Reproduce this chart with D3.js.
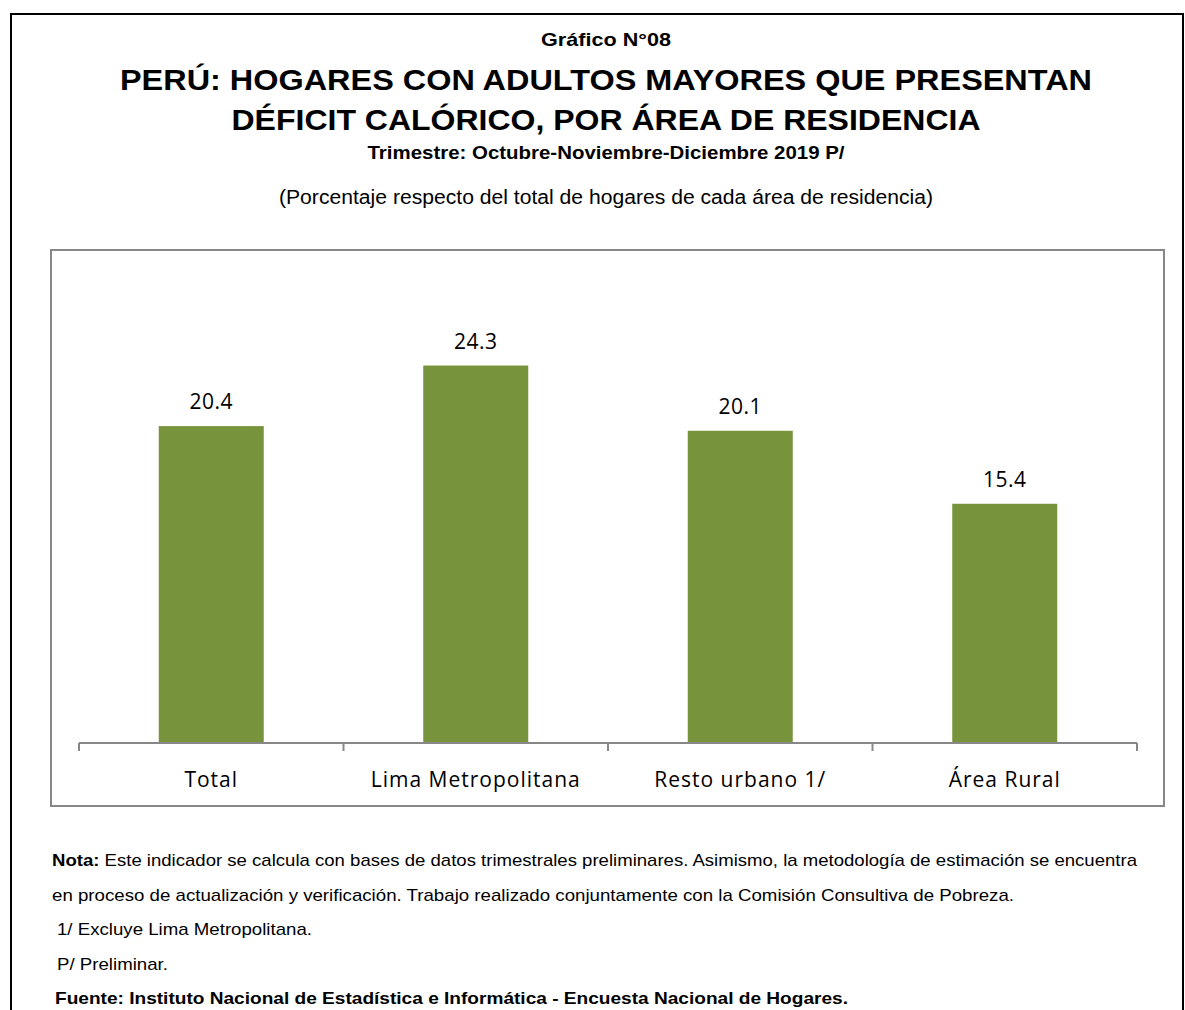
<!DOCTYPE html>
<html>
<head>
<meta charset="utf-8">
<script src="https://cdn.jsdelivr.net/npm/d3@7"></script>
<style>
  body { margin: 0; background: #fff; }
  .narrow { font-family: "Liberation Sans Narrow", "Arial Narrow", "Liberation Sans", Arial, sans-serif; }
  .wide { font-family: "Liberation Sans", Arial, sans-serif; }
  .cal { font-family: "Open Sans", "Noto Sans", sans-serif; }
</style>
</head>
<body>
<div id="chart"></div>
<script>
const categories = ['Total', 'Lima Metropolitana', 'Resto urbano 1/', 'Área Rural'];
const values = [20.4, 24.3, 20.1, 15.4];
const notes = [
  ['Nota:', ' Este indicador se calcula con bases de datos trimestrales preliminares. Asimismo, la metodología de estimación se encuentra'],
  ['', 'en proceso de actualización y verificación. Trabajo realizado conjuntamente con la Comisión Consultiva de Pobreza.'],
  ['', '1/ Excluye Lima Metropolitana.'],
  ['', 'P/ Preliminar.'],
  ['Fuente: Instituto Nacional de Estadística e Informática - Encuesta Nacional de Hogares.', '']
];
// layout for the note lines: left x and rendered width
const noteX = [52, 52, 57, 57, 55];
const noteW = [1085, 962, 255, 111, 793];

const width = 1185, height = 1010;
const svg = d3.select('#chart').append('svg')
    .attr('width', width)
    .attr('height', height);

// outer frame (no bottom edge visible)
svg.append('path')
    .attr('d', 'M11,1010 V14 H1183 V1010')
    .attr('fill', 'none')
    .attr('stroke', '#000')
    .attr('stroke-width', 2);

function heading(txt, y, size, weight, w, cls) {
  svg.append('text').attr('class', cls)
      .attr('x', 606 - w / 2).attr('y', y)
      .attr('font-size', size).attr('font-weight', weight)
      .attr('textLength', w).attr('lengthAdjust', 'spacingAndGlyphs')
      .text(txt);
}
heading('Gráfico N°08', 46, 19, 'bold', 130, 'narrow');
heading('PERÚ: HOGARES CON ADULTOS MAYORES QUE PRESENTAN', 90, 30, 'bold', 972, 'wide');
heading('DÉFICIT CALÓRICO, POR ÁREA DE RESIDENCIA', 130, 30, 'bold', 749, 'wide');
heading('Trimestre: Octubre-Noviembre-Diciembre 2019 P/', 159, 18, 'bold', 477, 'narrow');
heading('(Porcentaje respecto del total de hogares de cada área de residencia)', 204, 20, 'normal', 654, 'narrow');

// chart box
svg.append('rect')
    .attr('x', 51).attr('y', 250)
    .attr('width', 1113).attr('height', 556)
    .attr('fill', 'none')
    .attr('stroke', '#878787')
    .attr('stroke-width', 2);

const x = d3.scaleBand().domain(categories).range([79, 1137]).paddingInner(0).paddingOuter(0);
const y = d3.scaleLinear().domain([0, 30]).range([743, 277]);
const bw = 105;

svg.selectAll('.bar')
  .data(values)
  .enter().append('rect')
    .attr('class', 'bar')
    .attr('x', (d, i) => x(categories[i]) + x.bandwidth() / 2 - bw / 2)
    .attr('y', d => y(d))
    .attr('width', bw)
    .attr('height', d => y(0) - y(d))
    .attr('fill', '#77933c');

svg.selectAll('.val')
  .data(values)
  .enter().append('text')
    .attr('class', 'cal')
    .attr('x', (d, i) => x(categories[i]) + x.bandwidth() / 2)
    .attr('y', d => y(d) - 17)
    .attr('text-anchor', 'middle')
    .attr('font-size', 21)
    .attr('letter-spacing', 0.5)
    .attr('fill', '#000')
    .text(d => d.toFixed(1));

// axis
const axis = svg.append('g').attr('transform', 'translate(0,743)');
axis.append('line')
    .attr('x1', 79).attr('x2', 1137)
    .attr('stroke', '#878787').attr('stroke-width', 2);
const edges = categories.map(c => x(c)).concat([x(categories[categories.length - 1]) + x.bandwidth()]);
axis.selectAll('.tick')
  .data(edges)
  .enter().append('line')
    .attr('x1', d => d).attr('x2', d => d)
    .attr('y1', 0).attr('y2', 8)
    .attr('stroke', '#878787').attr('stroke-width', 2);
axis.selectAll('.cat')
  .data(categories)
  .enter().append('text')
    .attr('class', 'cal')
    .attr('x', d => x(d) + x.bandwidth() / 2)
    .attr('y', 44)
    .attr('text-anchor', 'middle')
    .attr('font-size', 21)
    .attr('letter-spacing', 1)
    .attr('fill', '#000')
    .text(d => d);

// notes
notes.forEach((n, i) => {
  const t = svg.append('text').attr('class', 'narrow')
      .attr('x', noteX[i]).attr('y', 866 + i * 34.5)
      .attr('font-size', 17)
      .attr('textLength', noteW[i]).attr('lengthAdjust', 'spacingAndGlyphs')
      .attr('xml:space', 'preserve');
  if (n[0]) t.append('tspan').attr('font-weight', 'bold').text(n[0]);
  if (n[1]) t.append('tspan').text(n[1]);
});
</script>
</body>
</html>
